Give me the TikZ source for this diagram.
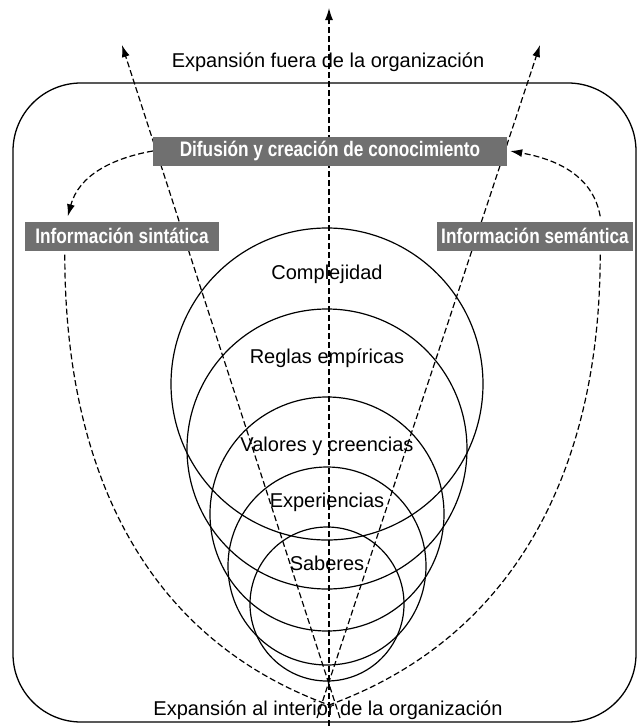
\documentclass[tikz,border=0pt]{standalone}
\usepackage{fontspec}
\setmainfont{Liberation Sans}
\newfontfamily\boxfont[FakeStretch=0.82]{Liberation Sans}
\usetikzlibrary{arrows.meta}
\pgfdeclarelayer{background}
\pgfsetlayers{background,main}
\definecolor{boxgray}{RGB}{112,112,112}
\tikzset{
  infobox/.style={fill=boxgray,text=white,font=\boxfont\bfseries\fontsize{21}{24}\selectfont,minimum height=29pt,inner sep=0pt},
  flow/.style={line width=1.2pt,dash pattern=on 6pt off 3pt,-{Latex[length=12pt,width=8pt]}},
  ring/.style={line width=1.2pt},
}

\begin{document}
\begin{tikzpicture}[x=1pt,y=-1pt,font=\fontsize{20}{24}\selectfont]
      \useasboundingbox (0,0) rectangle (638,726);
      % frame of the organization
      \draw[line width=1.3pt,rounded corners=68pt] (13,83) rectangle (636,722);
      % knowledge rings
      \draw[ring] (327,384) circle[radius=156];
      \draw[ring] (327,449) circle[radius=140];
      \draw[ring] (327,514) circle[radius=117];
      \draw[ring] (327,566) circle[radius=99];
      \draw[ring] (327,604) circle[radius=77];
      \node (complejidad) at (327,274) {Complejidad};
      \node (reglas) at (327,358) {Reglas empíricas};
      \node (valores) at (327,446) {Valores y creencias};
      \node (experiencias) at (327,502) {Experiencias};
      \node (saberes) at (327,563) {Saberes};
      \node (fuera) at (328,62) {Expansión fuera de la organización};
      \node (interior) at (328,710) {Expansión al interior de la organización};
      \node[infobox,minimum width=354pt] (difusion) at (330,151) {Difusión y creación de conocimiento};
      \node[infobox,minimum width=194pt] (sintatica) at (122,236) {Información sintática};
      \node[infobox,minimum width=196pt] (semantica) at (535,236) {Información semántica};
      \coordinate (vbot) at (329,726);
      \coordinate (vtop) at (329,8);
      \coordinate (lbot) at (340,718);
      \coordinate (ltop) at (122,45);
      \coordinate (rbot) at (317,718);
      \coordinate (rtop) at (540,45);
      \coordinate (ubot) at (329,705);
      \begin{pgfonlayer}{background}
        \draw[flow] (vbot) -- (vtop);
        \draw[flow] (lbot) -- (ltop);
        \draw[flow] (rbot) -- (rtop);
        \draw[flow] (difusion.west) to [out=190,in=75] ([xshift=43pt,yshift=5pt]sintatica.north west);
        \draw[flow] ([xshift=-33pt,yshift=5pt]semantica.north east) to [out=100,in=-10] ([xshift=3pt]difusion.east);
        \draw[flow,-] ([xshift=40pt,yshift=-4pt]sintatica.south west) to [out=-90,in=160] (ubot);
        \draw[flow,-] ([xshift=-33pt,yshift=-4pt]semantica.south east) to [out=-90,in=20] (ubot);
      \end{pgfonlayer}
    \end{tikzpicture}
\end{document}
